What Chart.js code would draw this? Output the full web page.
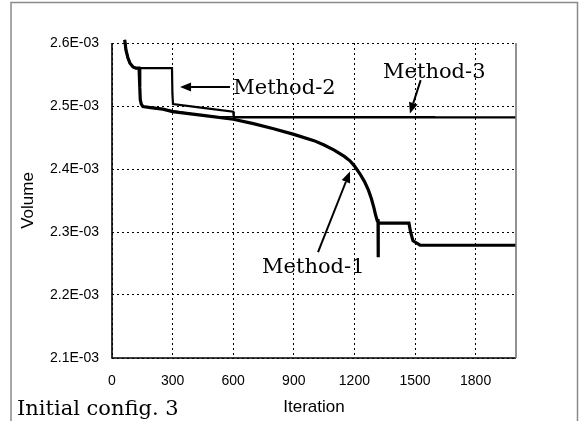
<!DOCTYPE html>
<html>
<head>
<meta charset="utf-8">
<title>Volume vs Iteration</title>
<script src="https://cdn.jsdelivr.net/npm/chart.js@4.4.1/dist/chart.umd.min.js"></script>
<style>
  html, body { margin: 0; padding: 0; background: #fff; }
  #wrap { width: 579px; height: 421px; }
</style>
</head>
<body>
<div id="wrap"><canvas id="chart" width="579" height="421"></canvas></div>
<script>
// Volume values are in units of 1E-03.
var xTicks = [0, 300, 600, 900, 1200, 1500, 1800];
var xTickLabels = ['0', '300', '600', '900', '1200', '1500', '1800'];
var yTicks = [2.1, 2.2, 2.3, 2.4, 2.5, 2.6];
var yTickLabels = ['2.1E-03', '2.2E-03', '2.3E-03', '2.4E-03', '2.5E-03', '2.6E-03'];

var method1X = [63, 69, 79, 89, 104, 119, 134, 137, 138, 140, 145, 153, 200, 252, 300, 450, 600, 700, 800, 900,
                1000, 1050, 1100, 1150, 1178, 1200, 1228, 1250, 1270, 1285, 1297, 1305, 1313, 1317, 1317, 1319,
                1470, 1478, 1490, 1525, 2000];
var method1Y = [2.605, 2.589, 2.576, 2.568, 2.562, 2.560, 2.560, 2.555, 2.530, 2.510, 2.503, 2.499, 2.497, 2.495,
                2.491, 2.485, 2.479, 2.472, 2.464, 2.455, 2.445, 2.438, 2.430, 2.420, 2.413, 2.405, 2.392, 2.380,
                2.366, 2.352, 2.338, 2.327, 2.318, 2.318, 2.260, 2.314, 2.314, 2.300, 2.286, 2.279, 2.279];

var method2X = [63, 69, 79, 89, 104, 119, 200, 297, 299, 302, 450, 600, 603, 2000];
var method2Y = [2.605, 2.589, 2.576, 2.568, 2.562, 2.560, 2.560, 2.560, 2.520, 2.503, 2.497, 2.491, 2.482, 2.482];

var method3X = [63, 69, 79, 89, 104, 119, 134, 137, 138, 140, 145, 153, 252, 450, 520, 1600];
var method3Y = [2.605, 2.589, 2.576, 2.568, 2.562, 2.560, 2.560, 2.555, 2.530, 2.510, 2.503, 2.499, 2.495,
                2.485, 2.483, 2.483];

// Callout labels: text, text anchor, arrow tail, arrow tip (data coords).
var notes = [
    { text: 'Method-2', at: [600, 2.519], from: [584, 2.530], to: [337, 2.530] },
    { text: 'Method-3', at: [1342, 2.544], from: [1528, 2.541], to: [1475, 2.488] },
    { text: 'Method-1', at: [743, 2.235], from: [1020, 2.268], to: [1178, 2.396] }
];

function toPoints(xs, ys) {
    return xs.map(function(x, i) { return { x: x, y: ys[i] }; });
}

// ── Frame and callouts ───────────────────────────────────────────────────
var decor = {
    id: 'decor',
    afterDraw: function(chart) {
        var ctx = chart.ctx;
        var a = chart.chartArea;
        var sx = chart.scales.x, sy = chart.scales.y;
        ctx.save();

        // outer page frame
        ctx.strokeStyle = '#8a8a8a';
        ctx.lineWidth = 1.5;
        ctx.beginPath();
        ctx.moveTo(11, 421); ctx.lineTo(11, 2.5); ctx.lineTo(577.5, 2.5); ctx.lineTo(577.5, 421);
        ctx.stroke();

        // plot frame (top edge stays dotted like the grid)
        ctx.strokeStyle = '#000';
        ctx.lineWidth = 1.6;
        ctx.beginPath();
        ctx.moveTo(a.left, a.top); ctx.lineTo(a.left, a.bottom); ctx.lineTo(a.right, a.bottom);
        ctx.stroke();
        ctx.strokeStyle = '#777';
        ctx.beginPath();
        ctx.moveTo(a.right, a.top); ctx.lineTo(a.right, a.bottom);
        ctx.stroke();

        // callouts
        ctx.fillStyle = '#000';
        ctx.strokeStyle = '#000';
        ctx.font = '21px "DejaVu Serif"';
        ctx.textBaseline = 'alphabetic';
        ctx.textAlign = 'left';
        notes.forEach(function(n) {
            ctx.fillText(n.text, sx.getPixelForValue(n.at[0]), sy.getPixelForValue(n.at[1]));
            var x0 = sx.getPixelForValue(n.from[0]), y0 = sy.getPixelForValue(n.from[1]);
            var x1 = sx.getPixelForValue(n.to[0]), y1 = sy.getPixelForValue(n.to[1]);
            var ang = Math.atan2(y1 - y0, x1 - x0);
            var len = 11, half = 4.5;
            var bx = x1 - len * Math.cos(ang), by = y1 - len * Math.sin(ang);
            ctx.lineWidth = 2;
            ctx.beginPath();
            ctx.moveTo(x0, y0); ctx.lineTo(bx, by);
            ctx.stroke();
            ctx.beginPath();
            ctx.moveTo(x1, y1);
            ctx.lineTo(bx + half * Math.sin(ang), by - half * Math.cos(ang));
            ctx.lineTo(bx - half * Math.sin(ang), by + half * Math.cos(ang));
            ctx.closePath();
            ctx.fill();
        });

        // caption
        ctx.font = '21px "DejaVu Serif"';
        ctx.fillText('Initial config. 3', 17, 415);
        ctx.restore();
    }
};

var gridStyle = { color: '#000', lineWidth: 1, drawTicks: false, tickLength: 0 };
var tickFont = { family: '"Liberation Sans", Arial, sans-serif', size: 14 };
var titleFont = { family: '"Liberation Sans", Arial, sans-serif', size: 17 };

new Chart(document.getElementById('chart'), {
    type: 'scatter',
    data: {
        datasets: [
            { label: 'Method-3', data: toPoints(method3X, method3Y), borderColor: '#000', borderWidth: 1.5 },
            { label: 'Method-2', data: toPoints(method2X, method2Y), borderColor: '#000', borderWidth: 2.2 },
            { label: 'Method-1', data: toPoints(method1X, method1Y), borderColor: '#000', borderWidth: 3.2 }
        ].map(function(d) {
            d.showLine = true;
            d.pointRadius = 0;
            d.tension = 0;
            d.fill = false;
            d.clip = 8;
            return d;
        })
    },
    options: {
        responsive: false,
        animation: false,
        events: [],
        layout: { padding: { left: 0, right: 63, top: 43, bottom: 0 } },
        plugins: { legend: { display: false }, tooltip: { enabled: false } },
        scales: {
            x: {
                type: 'linear',
                min: 0,
                max: 2000,
                afterFit: function(s) { s.height = 63; },
                afterBuildTicks: function(s) { s.ticks = xTicks.map(function(v) { return { value: v }; }); },
                grid: gridStyle,
                border: { display: false, dash: [2, 3] },
                ticks: {
                    color: '#000', font: tickFont, padding: 15, maxRotation: 0,
                    callback: function(v) {
                        var i = xTicks.indexOf(Math.round(v));
                        return i >= 0 ? xTickLabels[i] : '';
                    }
                },
                title: { display: true, text: 'Iteration', color: '#000', font: titleFont,
                         padding: { top: 0, bottom: 3 } }
            },
            y: {
                type: 'linear',
                min: 2.1,
                max: 2.6,
                afterFit: function(s) { s.width = 112; },
                afterBuildTicks: function(s) { s.ticks = yTicks.map(function(v) { return { value: v }; }); },
                grid: gridStyle,
                border: { display: false, dash: [2, 3] },
                ticks: {
                    color: '#000',
                    font: tickFont,
                    padding: 13,
                    callback: function(v) {
                        var i = yTicks.indexOf(Math.round(v * 10) / 10);
                        return i >= 0 ? yTickLabels[i] : '';
                    }
                },
                title: { display: true, text: 'Volume', color: '#000', font: titleFont,
                         padding: { top: 18, bottom: 0 } }
            }
        }
    },
    plugins: [decor]
});
</script>
</body>
</html>
